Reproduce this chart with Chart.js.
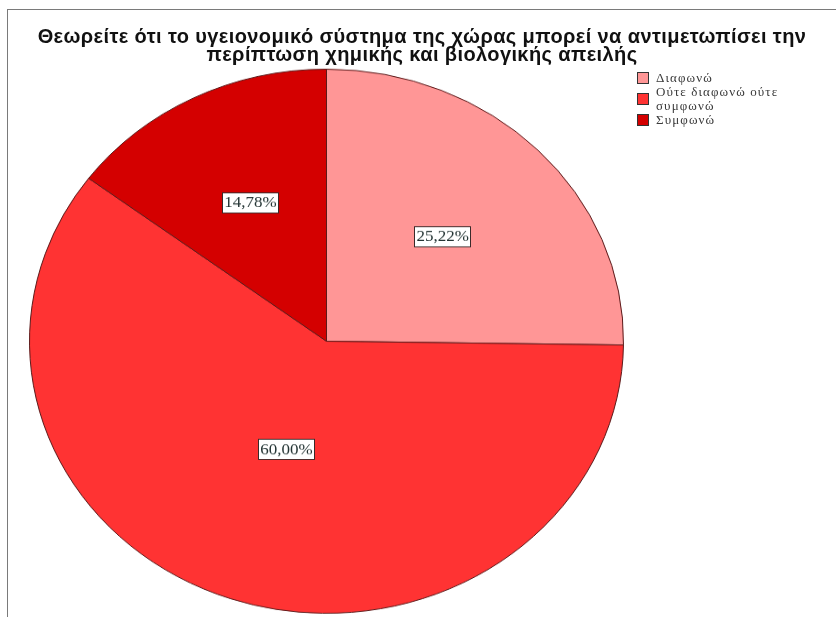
<!DOCTYPE html>
<html>
<head>
<meta charset="utf-8">
<script src="https://cdn.jsdelivr.net/npm/chart.js@4"></script>
<style>
    body { margin: 0; width: 836px; height: 617px; overflow: hidden; background: #fff; position: relative; }
    #frame { position: absolute; left: 7px; top: 9px; width: 900px; height: 700px; border: 1px solid #7a7a7a; }
    #title { position: absolute; left: 8px; top: 27px; width: 828px; text-align: center;
             font: bold 20px "Liberation Sans", Arial, sans-serif; letter-spacing: 0.4px; line-height: 18px; color: #111; }
    #pieWrap { position: absolute; left: 0; top: 0; transform: scaleY(0.916); transform-origin: 0 0; }
    #legend { position: absolute; left: 637px; top: 71px; font: 13px "Liberation Serif", "Times New Roman", serif;
              letter-spacing: 1.1px; line-height: 14px; color: #3a3a3a; }
    .item { display: flex; align-items: center; }
    .box { width: 10px; height: 10px; border: 1px solid #333; margin-right: 7px; flex: none; }
    .txt { width: 140px; }
</style>
</head>
<body>
<div id="frame"></div>
<div id="pieWrap"><canvas id="pie" width="836" height="700"></canvas></div>
<div id="title">Θεωρείτε ότι το υγειονομικό σύστημα της χώρας μπορεί να αντιμετωπίσει την<br>περίπτωση χημικής και βιολογικής απειλής</div>
<div id="legend"></div>
<script>
    var answers = ['Διαφωνώ', 'Ούτε διαφωνώ ούτε συμφωνώ', 'Συμφωνώ'];
    var percents = [25.22, 60.00, 14.78];
    var colors = ['#ff9696', '#ff3333', '#d40000'];

    // legend on the right
    var legend = document.getElementById('legend');
    answers.forEach(function(a, i) {
        var row = document.createElement('div');
        row.className = 'item';
        row.innerHTML = '<span class="box" style="background:' + colors[i] + '"></span><span class="txt">' + a + '</span>';
        legend.appendChild(row);
    });

    // boxed percentage inside every slice
    var sliceLabels = {
        id: 'sliceLabels',
        afterDatasetsDraw: function(chart) {
            var ctx = chart.ctx;
            var meta = chart.getDatasetMeta(0);
            ctx.save();
            ctx.font = '17px "Liberation Serif", "Times New Roman", serif';
            ctx.textAlign = 'center';
            ctx.textBaseline = 'middle';
            meta.data.forEach(function(arc, i) {
                var p = arc.getProps(['x', 'y', 'startAngle', 'endAngle', 'outerRadius']);
                var theta = p.endAngle - p.startAngle;
                var mid = p.startAngle + theta / 2;
                var centroid = 4 * p.outerRadius * Math.sin(theta / 2) / (3 * theta);
                var d = (centroid + p.outerRadius / 2) / 2;
                var lx = p.x + Math.cos(mid) * d;
                var ly = p.y + Math.sin(mid) * d;
                var text = percents[i].toFixed(2).replace('.', ',') + '%';
                var w = ctx.measureText(text).width + 4;
                var h = 22;
                ctx.fillStyle = '#fff';
                ctx.fillRect(Math.round(lx - w / 2) + 0.5, Math.round(ly - h / 2) + 0.5, Math.round(w), h);
                ctx.strokeStyle = '#3a2a2a';
                ctx.lineWidth = 1;
                ctx.strokeRect(Math.round(lx - w / 2) + 0.5, Math.round(ly - h / 2) + 0.5, Math.round(w), h);
                ctx.fillStyle = '#243434';
                ctx.fillText(text, lx, ly + 1);
            });
            ctx.restore();
        }
    };

    new Chart(document.getElementById('pie'), {
        type: 'pie',
        data: {
            labels: answers,
            datasets: [{
                data: percents,
                backgroundColor: colors,
                borderColor: '#5a1a1a',
                borderWidth: 1
            }]
        },
        options: {
            responsive: false,
            animation: false,
            events: [],
            layout: { padding: { left: 29, right: 212, top: 75, bottom: 30 } },
            plugins: {
                legend: { display: false },
                title: { display: false },
                tooltip: { enabled: false }
            }
        },
        plugins: [sliceLabels]
    });
</script>
</body>
</html>
